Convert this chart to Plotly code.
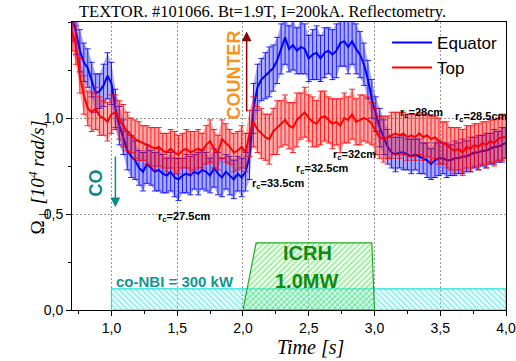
import numpy as np
import plotly.graph_objects as go

# ---- data ----
time_s = np.round(np.arange(0.70, 4.0001, 0.03), 2)

equator = [1.52, 1.45, 1.35, 1.29, 1.26, 1.20, 1.13, 1.14, 1.17, 1.22,
           1.18, 1.05, 0.96, 0.90, 0.83, 0.80, 0.78, 0.74, 0.72, 0.76,
           0.74, 0.72, 0.73, 0.71, 0.70, 0.72, 0.69, 0.68, 0.70, 0.71,
           0.70, 0.72, 0.71, 0.73, 0.72, 0.70, 0.74, 0.71, 0.69, 0.72,
           0.70, 0.68, 0.71, 0.69, 0.72, 0.80, 1.05, 1.16, 1.20, 1.22,
           1.24, 1.26, 1.30, 1.36, 1.42, 1.36, 1.38, 1.35, 1.37, 1.36,
           1.31, 1.33, 1.34, 1.31, 1.34, 1.35, 1.33, 1.35, 1.39, 1.40,
           1.37, 1.40, 1.36, 1.33, 1.28, 1.20, 1.10, 1.02, 0.95, 0.90,
           0.85, 0.82, 0.81, 0.82, 0.82, 0.81, 0.80, 0.81, 0.80, 0.79,
           0.78, 0.76, 0.78, 0.79, 0.79, 0.78, 0.78, 0.79, 0.79, 0.80,
           0.80, 0.81, 0.82, 0.82, 0.83, 0.83, 0.84, 0.85, 0.85, 0.86,
           0.87]
equator_err = [0.12, 0.12, 0.11, 0.10, 0.10, 0.09, 0.10, 0.09, 0.11, 0.12,
               0.11, 0.10, 0.10, 0.09, 0.10, 0.11, 0.10, 0.09, 0.10, 0.10,
               0.09, 0.10, 0.11, 0.10, 0.09, 0.10, 0.10, 0.11, 0.09, 0.10,
               0.10, 0.09, 0.11, 0.10, 0.10, 0.09, 0.10, 0.11, 0.10, 0.09,
               0.10, 0.10, 0.09, 0.10, 0.10, 0.12, 0.13, 0.12, 0.11, 0.12,
               0.13, 0.12, 0.12, 0.13, 0.14, 0.12, 0.13, 0.12, 0.14, 0.13,
               0.12, 0.13, 0.14, 0.12, 0.13, 0.12, 0.13, 0.14, 0.12, 0.13,
               0.14, 0.12, 0.13, 0.12, 0.11, 0.10, 0.10, 0.09, 0.10, 0.09,
               0.09, 0.08, 0.09, 0.08, 0.09, 0.08, 0.09, 0.08, 0.09, 0.08,
               0.09, 0.08, 0.09, 0.09, 0.08, 0.09, 0.08, 0.09, 0.08, 0.09,
               0.08, 0.09, 0.08, 0.09, 0.08, 0.09, 0.08, 0.09, 0.08, 0.09,
               0.08]

top = [1.45, 1.38, 1.22, 1.12, 1.05, 1.03, 1.05, 1.01, 1.00, 0.98,
       1.02, 1.03, 0.99, 0.96, 0.93, 0.91, 0.89, 0.88, 0.87, 0.86,
       0.85, 0.84, 0.85, 0.83, 0.82, 0.84, 0.82, 0.81, 0.83, 0.84,
       0.82, 0.83, 0.84, 0.83, 0.86, 0.88, 0.84, 0.82, 0.89, 0.87,
       0.85, 0.82, 0.83, 0.85, 0.82, 0.92, 0.98, 0.94, 0.92, 0.90,
       0.89, 0.93, 0.95, 0.97, 0.99, 0.96, 0.95, 0.99, 1.01, 1.03,
       1.00, 0.98, 0.97, 1.00, 1.01, 0.99, 0.97, 0.98, 0.96, 1.00,
       0.99, 1.02, 0.98, 0.99, 1.00, 0.99, 0.97, 0.93, 0.90, 0.89,
       0.90, 0.91, 0.92, 0.91, 0.92, 0.90, 0.91, 0.90, 0.92, 0.90,
       0.91, 0.89, 0.90, 0.88, 0.87, 0.86, 0.84, 0.83, 0.84, 0.82,
       0.85, 0.84, 0.86, 0.85, 0.87, 0.86, 0.88, 0.87, 0.89, 0.90,
       0.90]
top_err = [0.10, 0.10, 0.09, 0.10, 0.09, 0.10, 0.11, 0.10, 0.09, 0.10,
           0.10, 0.09, 0.10, 0.11, 0.10, 0.09, 0.10, 0.10, 0.09, 0.10,
           0.10, 0.11, 0.10, 0.09, 0.10, 0.10, 0.11, 0.10, 0.09, 0.10,
           0.11, 0.10, 0.10, 0.09, 0.10, 0.11, 0.10, 0.09, 0.10, 0.10,
           0.09, 0.10, 0.10, 0.11, 0.10, 0.12, 0.13, 0.12, 0.13, 0.12,
           0.13, 0.12, 0.14, 0.12, 0.13, 0.12, 0.13, 0.14, 0.12, 0.13,
           0.12, 0.13, 0.12, 0.14, 0.13, 0.12, 0.13, 0.12, 0.14, 0.13,
           0.12, 0.13, 0.12, 0.13, 0.12, 0.12, 0.11, 0.12, 0.11, 0.12,
           0.11, 0.12, 0.11, 0.12, 0.11, 0.12, 0.11, 0.12, 0.11, 0.12,
           0.11, 0.12, 0.11, 0.12, 0.11, 0.12, 0.11, 0.12, 0.11, 0.12,
           0.11, 0.12, 0.11, 0.12, 0.11, 0.12, 0.11, 0.12, 0.11, 0.12,
           0.11]

icrh_t = [2.0, 2.1, 2.98, 3.0, 2.0]
icrh_v = [0.0, 0.35, 0.35, 0.0, 0.0]
nbi_t = [1.0, 1.0, 4.0, 4.0, 1.0]
nbi_v = [0.0, 0.11, 0.11, 0.0, 0.0]

y_ticks = [0.0, 0.5, 1.0]
y_ticklabels = ["0,0", "0,5", "1,0"]
x_ticks = [1.0, 1.5, 2.0, 2.5, 3.0, 3.5, 4.0]
x_ticklabels = ["1,0", "1,5", "2,0", "2,5", "3,0", "3,5", "4,0"]

rc_labels = ["r<sub>c</sub>=27.5cm", "r<sub>c</sub>=33.5cm", "r<sub>c</sub>=32.5cm",
             "r<sub>c</sub>=32cm", "r<sub>c</sub>=28cm", "r<sub>c</sub>=28.5cm"]
rc_t = [1.556, 2.272, 2.607, 2.851, 3.361, 3.810]
rc_v = [0.484, 0.655, 0.735, 0.807, 1.026, 1.005]

fig = go.Figure()

# heating shapes
fig.add_trace(go.Scatter(x=nbi_t, y=nbi_v, mode="lines", fill="toself",
                         line=dict(color="#22e0e0", width=1.2),
                         fillcolor="rgba(0,0,0,0)",
                         fillpattern=dict(shape="\\", fgcolor="#22dddd", bgcolor="rgba(200,255,255,0.2)",
                                          size=4, solidity=0.45),
                         showlegend=False, hoverinfo="skip"))
fig.add_trace(go.Scatter(x=icrh_t, y=icrh_v, mode="lines", fill="toself",
                         line=dict(color="#22aa22", width=1.2),
                         fillcolor="rgba(0,0,0,0)",
                         fillpattern=dict(shape="/", fgcolor="#33dd33", bgcolor="rgba(220,255,220,0.15)",
                                          size=4, solidity=0.45),
                         showlegend=False, hoverinfo="skip"))


def add_series(y, err, name, rgb):
    y = np.array(y)
    e = np.array(err)
    fig.add_trace(go.Scatter(x=time_s, y=y + e, mode="lines", line=dict(width=0),
                             showlegend=False, hoverinfo="skip"))
    fig.add_trace(go.Scatter(x=time_s, y=y - e, mode="lines", line=dict(width=0),
                             fill="tonexty", fillcolor="rgba(%d,%d,%d,0.33)" % rgb,
                             showlegend=False, hoverinfo="skip"))
    fig.add_trace(go.Scatter(x=time_s, y=y, mode="markers", marker=dict(size=1, opacity=0),
                             error_y=dict(type="data", array=e, visible=True,
                                          color="rgba(%d,%d,%d,0.85)" % rgb, thickness=1, width=3),
                             showlegend=False, hoverinfo="skip"))
    fig.add_trace(go.Scatter(x=time_s, y=y, mode="lines", name=name,
                             line=dict(color="rgb(%d,%d,%d)" % rgb, width=2)))


add_series(equator, equator_err, "Equator", (0, 0, 255))
add_series(top, top_err, "Top", (255, 0, 0))

ann = []
# title
ann.append(dict(text="TEXTOR. #101066. Bt=1.9T, I=200kA. Reflectometry.", xref="paper", yref="paper",
                x=0.44, y=1.035, showarrow=False, xanchor="center", yanchor="middle",
                font=dict(family="Liberation Serif", size=16.5, color="black")))
# axis titles
ann.append(dict(text="Ω<sub>⊥</sub> <i>[10<sup>4</sup> rad/s]</i>", xref="paper", yref="paper",
                x=-0.113, y=0.462, textangle=-90, showarrow=False,
                font=dict(family="Liberation Serif", size=19, color="black")))
ann.append(dict(text="<i>Time [s]</i>", xref="x", yref="paper", x=2.515, y=-0.128,
                showarrow=False, yanchor="middle",
                font=dict(family="Liberation Serif", size=20, color="black")))
# COUNTER / CO
ann.append(dict(text="<b>COUNTER</b>", x=1.929, y=1.224, textangle=-90, showarrow=False,
                font=dict(family="Liberation Sans", size=18, color="#f7941d")))
ann.append(dict(text="", x=2.028, y=1.45, ax=2.028, ay=1.026, axref="x", ayref="y",
                showarrow=True, arrowhead=2, arrowsize=1.3, arrowwidth=1.5, arrowcolor="#8b0000"))
ann.append(dict(text="<b>CO</b>", x=0.886, y=0.661, textangle=-90, showarrow=False,
                font=dict(family="Liberation Sans", size=18, color="#0a8a8a")))
ann.append(dict(text="", x=1.03, y=0.535, ax=1.03, ay=0.807, axref="x", ayref="y",
                showarrow=True, arrowhead=2, arrowsize=1.3, arrowwidth=1.5, arrowcolor="#0a8a8a"))
# r_c labels
for lab, tx, vy in zip(rc_labels, rc_t, rc_v):
    ann.append(dict(text="<b>" + lab + "</b>", x=tx, y=vy, showarrow=False,
                    font=dict(family="Liberation Sans", size=11, color="black")))
# heating labels
ann.append(dict(text="<b>ICRH</b>", x=2.493, y=0.297, showarrow=False,
                font=dict(family="Liberation Sans", size=20, color="#118a11")))
ann.append(dict(text="<b>1.0MW</b>", x=2.485, y=0.151, showarrow=False,
                font=dict(family="Liberation Sans", size=20, color="#118a11")))
ann.append(dict(text="<b>co-NBI = 300 kW</b>", x=1.48, y=0.146, showarrow=False,
                font=dict(family="Liberation Sans", size=15, color="#139595")))

axis_common = dict(showline=True, linecolor="black", linewidth=1, mirror=True,
                   ticks="outside", ticklen=5, tickcolor="black", automargin=False,
                   showgrid=True, gridcolor="#999999", griddash="2px,2px", gridwidth=1,
                   zeroline=False, tickfont=dict(family="Liberation Sans", size=14, color="black"))

fig.update_layout(
    width=516, height=361,
    margin=dict(l=72, r=10, t=22, b=51),
    paper_bgcolor="white", plot_bgcolor="white",
    showlegend=True,
    legend=dict(x=0.726, y=0.99, xanchor="left", yanchor="top", bgcolor="rgba(0,0,0,0)",
                font=dict(family="Liberation Sans", size=17, color="black"),
                traceorder="normal", tracegroupgap=0, itemwidth=40),
    annotations=ann,
    xaxis=dict(range=[0.7, 4.0], tickmode="array", tickvals=x_ticks, ticktext=x_ticklabels,
               minor=dict(dtick=0.25, tick0=0.75, ticks="outside", ticklen=3, tickcolor="black", showgrid=False),
               **axis_common),
    yaxis=dict(range=[0, 1.5], tickmode="array", tickvals=y_ticks, ticktext=y_ticklabels,
               minor=dict(dtick=0.25, tick0=0, ticks="outside", ticklen=3, tickcolor="black", showgrid=False),
               **axis_common),
)

fig.write_html("out.html")
